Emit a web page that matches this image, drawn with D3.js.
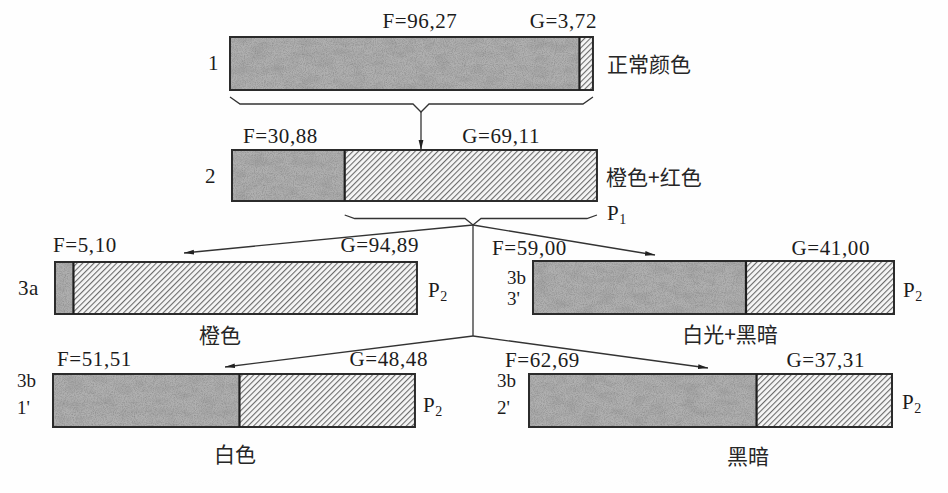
<!DOCTYPE html>
<html><head><meta charset="utf-8">
<script src="https://cdn.jsdelivr.net/npm/d3@7"></script>
<style>
html,body{margin:0;padding:0;background:#fff;}
svg{display:block;}
.num{font-family:"Liberation Serif","Times New Roman",serif;font-size:21px;fill:#1c1c1c;letter-spacing:0.6px;}
.idl{font-family:"Liberation Serif","Times New Roman",serif;font-size:19px;fill:#1c1c1c;}
.cjk{font-family:"Noto Sans CJK SC",sans-serif;font-size:21px;fill:#262626;}
</style></head>
<body>
<script>
// ---- data ----
const barIds = [["1"], ["2"], ["3a"], ["3b", "3'"], ["3b", "1'"], ["3b", "2'"]];
const fValues = [96.27, 30.88, 5.10, 59.00, 51.51, 62.69];
const gValues = [3.72, 69.11, 94.89, 41.00, 48.48, 37.31];
const fLabels = ["F=96,27", "F=30,88", "F=5,10", "F=59,00", "F=51,51", "F=62,69"];
const gLabels = ["G=3,72", "G=69,11", "G=94,89", "G=41,00", "G=48,48", "G=37,31"];
const conditionLabels = ["正常颜色", "橙色+红色", "橙色", "白光+黑暗", "白色", "黑暗"];
const pLabels = [null, ["P", "1"], ["P", "2"], ["P", "2"], ["P", "2"], ["P", "2"]];

// ---- layout (positions only) ----
const layout = [
  {x0:230, x1:593, y0:37,  y1:90,  id:{x:208, y:[63]},       f:{x:420, y:28,  a:"middle"}, g:{x:597, y:28},  c:{x:607, y:63,  a:"start"},  p:null},
  {x0:232, x1:597, y0:150, y1:201, id:{x:205, y:[176]},      f:{x:243, y:143, a:"start"},  g:{x:540, y:143}, c:{x:606, y:176, a:"start"},  p:{x:607, y:213}},
  {x0:55,  x1:417, y0:262, y1:314, id:{x:18,  y:[288]},      f:{x:53,  y:252, a:"start"},  g:{x:419, y:252}, c:{x:220, y:334, a:"middle"}, p:{x:428, y:290}},
  {x0:533, x1:894, y0:261, y1:314, id:{x:507, y:[277, 298]}, f:{x:492, y:255, a:"start"},  g:{x:870, y:255}, c:{x:730, y:333, a:"middle"}, p:{x:903, y:290}},
  {x0:53,  x1:415, y0:374, y1:427, id:{x:17,  y:[380, 407]}, f:{x:57,  y:366, a:"start"},  g:{x:428, y:366}, c:{x:235, y:453, a:"middle"}, p:{x:423, y:405}},
  {x0:529, x1:892, y0:374, y1:427, id:{x:497, y:[380, 407]}, f:{x:505, y:367, a:"start"},  g:{x:865, y:367}, c:{x:748, y:455, a:"middle"}, p:{x:902, y:402}}
];

const W = 948, H = 493;
const svg = d3.select("body").append("svg").attr("width", W).attr("height", H);
svg.append("rect").attr("width", W).attr("height", H).attr("fill", "#fefefe");

const defs = svg.append("defs");
// hatch pattern
const hatch = defs.append("pattern").attr("id", "hatch").attr("patternUnits", "userSpaceOnUse")
  .attr("width", 4).attr("height", 4).attr("patternTransform", "rotate(45)");
hatch.append("rect").attr("width", 4).attr("height", 4).attr("fill", "#f6f6f6");
hatch.append("line").attr("x1", 0.6).attr("y1", 0).attr("x2", 0.6).attr("y2", 4)
  .attr("stroke", "#5e5e5e").attr("stroke-width", 1);
// grain filter: fine speckle + mottled low-frequency blotches
const filt = defs.append("filter").attr("id", "grain").attr("x", 0).attr("y", 0).attr("width", 1).attr("height", 1);
filt.append("feTurbulence").attr("type", "fractalNoise").attr("baseFrequency", 0.9).attr("numOctaves", 2).attr("seed", 4).attr("result", "t");
filt.append("feColorMatrix").attr("in", "t").attr("type", "matrix")
  .attr("values", "0 0 0 0 0.25  0 0 0 0 0.25  0 0 0 0 0.25  0 0 0 1.6 -0.6").attr("result", "dark");
filt.append("feTurbulence").attr("type", "fractalNoise").attr("baseFrequency", "0.06 0.12").attr("numOctaves", 3).attr("seed", 9).attr("result", "t2");
filt.append("feColorMatrix").attr("in", "t2").attr("type", "matrix")
  .attr("values", "0 0 0 0 0.3  0 0 0 0 0.3  0 0 0 0 0.3  0 0 0 1.2 -0.5").attr("result", "blot");
filt.append("feComposite").attr("in", "dark").attr("in2", "SourceGraphic").attr("operator", "in").attr("result", "d2");
filt.append("feComposite").attr("in", "blot").attr("in2", "SourceGraphic").attr("operator", "in").attr("result", "b2");
const fm = filt.append("feMerge");
fm.append("feMergeNode").attr("in", "SourceGraphic");
fm.append("feMergeNode").attr("in", "b2");
fm.append("feMergeNode").attr("in", "d2");
// arrow marker
defs.append("marker").attr("id", "arrow").attr("markerUnits", "userSpaceOnUse")
  .attr("viewBox", "0 0 10 6").attr("refX", 10).attr("refY", 3)
  .attr("markerWidth", 10).attr("markerHeight", 6).attr("orient", "auto")
  .append("path").attr("d", "M0,0.6 L10,3 L0,5.4 Z").attr("fill", "#222");

const scales = layout.map(L => d3.scaleLinear().domain([0, 100]).range([L.x0, L.x1]));

// bars
layout.forEach((L, i) => {
  const x = scales[i];
  const g = svg.append("g");
  const f = fValues[i], gv = gValues[i];
  g.append("rect").attr("x", x(0)).attr("y", L.y0).attr("width", x(f) - x(0)).attr("height", L.y1 - L.y0)
    .attr("fill", "#b0b0b0").attr("filter", "url(#grain)");
  g.append("rect").attr("x", x(f)).attr("y", L.y0).attr("width", x(f + gv) - x(f)).attr("height", L.y1 - L.y0)
    .attr("fill", "url(#hatch)");
  g.append("rect").attr("x", x(0)).attr("y", L.y0).attr("width", x(f + gv) - x(0)).attr("height", L.y1 - L.y0)
    .attr("fill", "none").attr("stroke", "#2b2b2b").attr("stroke-width", 2);
  g.append("line").attr("x1", x(f)).attr("x2", x(f)).attr("y1", L.y0).attr("y2", L.y1)
    .attr("stroke", "#1f1f1f").attr("stroke-width", 2.2);

  // texts
  g.append("text").attr("class", "num").attr("x", L.f.x).attr("y", L.f.y).attr("text-anchor", L.f.a).text(fLabels[i]);
  g.append("text").attr("class", "num").attr("x", L.g.x).attr("y", L.g.y).attr("text-anchor", "end").text(gLabels[i]);
  barIds[i].forEach((t, k) => {
    g.append("text").attr("class", barIds[i].length > 1 ? "idl" : "num").attr("x", L.id.x).attr("y", L.id.y[k])
      .attr("dominant-baseline", "central").text(t);
  });
  g.append("text").attr("class", "cjk").attr("x", L.c.x).attr("y", L.c.y).attr("text-anchor", L.c.a)
    .attr("dominant-baseline", "central").text(conditionLabels[i]);
  if (pLabels[i]) {
    const t = g.append("text").attr("class", "num").attr("x", L.p.x).attr("y", L.p.y + 7);
    t.append("tspan").text(pLabels[i][0]);
    t.append("tspan").attr("dy", 4).style("font-size", "14px").text(pLabels[i][1]);
  }
});

// braces
function brace(xa, xb, yTop, yMid, tipX, tipY) {
  const p = d3.path();
  p.moveTo(xa, yTop);
  p.lineTo(xa + 10, yMid);
  p.lineTo(tipX - 8, yMid);
  p.lineTo(tipX, tipY);
  p.lineTo(tipX + 8, yMid);
  p.lineTo(xb - 10, yMid);
  p.lineTo(xb, yTop);
  return p.toString();
}
const s0 = scales[0], s1 = scales[1];
const tip1 = {x: 421, y: 112};
svg.append("path").attr("d", brace(s0(0), s0(fValues[0] + gValues[0]), 97, 104, tip1.x, tip1.y))
  .attr("fill", "none").attr("stroke", "#333").attr("stroke-width", 1.3);
const tip2 = {x: 473, y: 225};
svg.append("path").attr("d", brace(s1(fValues[1]), s1(fValues[1] + gValues[1]), 215, 218.5, tip2.x, tip2.y))
  .attr("fill", "none").attr("stroke", "#333").attr("stroke-width", 1.3);

// connectors
const split2 = {x: 473, y: 336};
const arrows = [
  [tip1, {x: tip1.x, y: layout[1].y0}],
  [tip2, {x: 184, y: 253}],
  [tip2, {x: 655, y: 255}],
  [split2, {x: 225, y: 367}],
  [split2, {x: 708, y: 368}]
];
svg.append("line").attr("x1", tip2.x).attr("y1", tip2.y).attr("x2", split2.x).attr("y2", split2.y)
  .attr("stroke", "#333").attr("stroke-width", 1.3);
arrows.forEach(([a, b]) => {
  svg.append("line").attr("x1", a.x).attr("y1", a.y).attr("x2", b.x).attr("y2", b.y)
    .attr("stroke", "#333").attr("stroke-width", 1.3).attr("marker-end", "url(#arrow)");
});
</script>
</body></html>
